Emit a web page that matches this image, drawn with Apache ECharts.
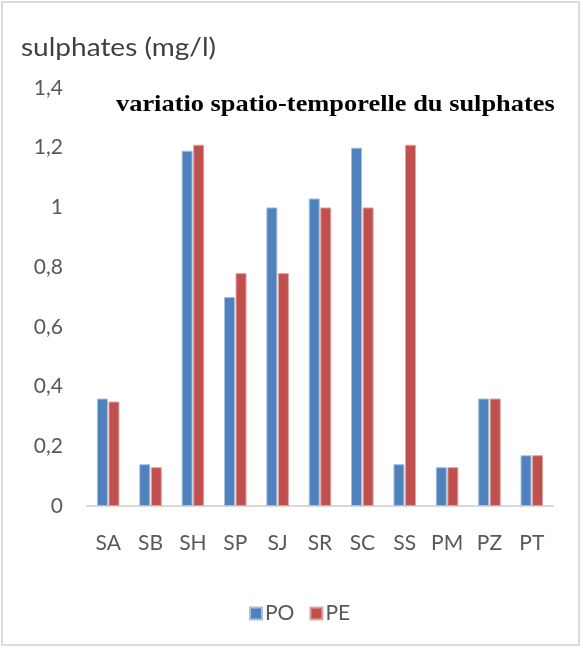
<!DOCTYPE html>
<html>
<head>
<meta charset="utf-8">
<script src="https://cdn.jsdelivr.net/npm/echarts@6/dist/echarts.min.js"></script>
<style>
  html, body { margin: 0; padding: 0; background: #fff; }
  #chart { width: 583px; height: 648px; }
</style>
</head>
<body>
<div id="chart"></div>
<script>
// Sampling sites
const sites = ['SA', 'SB', 'SH', 'SP', 'SJ', 'SR', 'SC', 'SS', 'PM', 'PZ', 'PT'];
// Sulphate concentrations (mg/l) per campaign
const valuesPO = [0.36, 0.14, 1.19, 0.70, 1.00, 1.03, 1.20, 0.14, 0.13, 0.36, 0.17];
const valuesPE = [0.35, 0.13, 1.21, 0.78, 0.78, 1.00, 1.00, 1.21, 0.13, 0.36, 0.17];
// Y-axis tick labels (French decimal comma)
const yTickLabels = ['0', '0,2', '0,4', '0,6', '0,8', '1', '1,2', '1,4'];

const chart = echarts.init(document.getElementById('chart'), null, { renderer: 'canvas' });

const labelFont = 'Lato, "Open Sans", sans-serif';

chart.setOption({
  backgroundColor: '#ffffff',
  animation: false,
  graphic: [
    {
      type: 'rect',
      shape: { x: 2, y: 2, width: 577, height: 643 },
      style: { fill: 'none', stroke: '#dcdcdc', lineWidth: 2 },
      silent: true
    },
    {
      // axis title, slightly widened
      type: 'text',
      x: 21,
      y: 48,
      scaleX: 1.12,
      style: {
        text: 'sulphates (mg/l)',
        font: '25px Lato, "Open Sans", sans-serif',
        fill: '#404040',
        verticalAlign: 'middle'
      }
    },
    {
      // chart heading, widened bold serif
      type: 'text',
      x: 116,
      y: 105,
      scaleX: 1.1,
      style: {
        text: 'variatio spatio-temporelle du sulphates',
        font: 'bold 24px "Liberation Serif", "DejaVu Serif", serif',
        fill: '#000000',
        verticalAlign: 'middle'
      }
    }
  ],
  legend: {
    data: ['PO', 'PE'],
    left: 244,
    top: 598,
    icon: 'rect',
    itemWidth: 12,
    itemHeight: 12,
    itemGap: 15,
    textStyle: { fontFamily: labelFont, fontSize: 21, color: '#595959', padding: [0, 0, 0, -2] }
  },
  grid: { left: 87, right: 30, top: 88, bottom: 142, containLabel: false },
  xAxis: {
    type: 'category',
    data: sites,
    axisLine: { show: true, lineStyle: { color: '#d9d9d9', width: 2 } },
    axisTick: { show: false },
    axisLabel: { fontFamily: labelFont, fontSize: 21, color: '#595959', margin: 27, interval: 0 }
  },
  yAxis: {
    type: 'value',
    min: 0,
    max: 1.4,
    interval: 0.2,
    splitLine: { show: false },
    axisLine: { show: false },
    axisTick: { show: false },
    axisLabel: {
      fontFamily: labelFont,
      fontSize: 21,
      color: '#595959',
      margin: 24,
      formatter: function (v) { return yTickLabels[Math.round(v / 0.2)]; }
    }
  },
  series: [
    {
      name: 'PO',
      type: 'bar',
      data: valuesPO,
      barWidth: 11,
      barGap: '5%',
      itemStyle: { color: '#4f81bd', borderColor: '#a7c0e0', borderWidth: 1 }
    },
    {
      name: 'PE',
      type: 'bar',
      data: valuesPE,
      barWidth: 11,
      itemStyle: { color: '#c0504d', borderColor: '#e0a3a1', borderWidth: 1 }
    }
  ]
});
</script>
</body>
</html>
